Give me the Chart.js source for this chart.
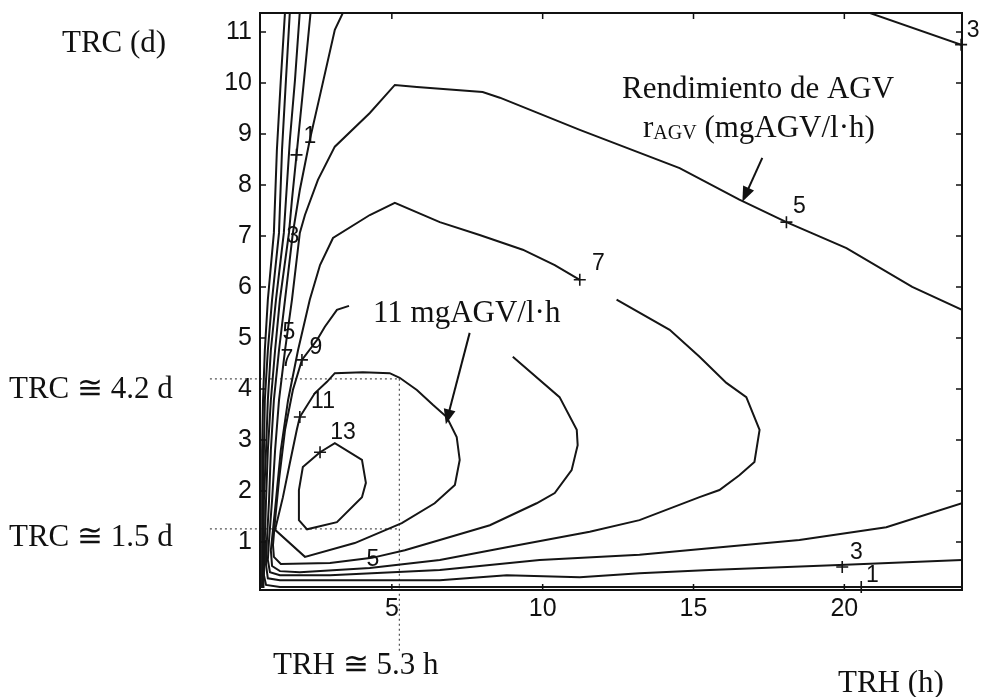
<!DOCTYPE html>
<html>
<head>
<meta charset="utf-8">
<script src="https://cdn.jsdelivr.net/npm/chart.js@4.4.1/dist/chart.umd.min.js"></script>
<style>
  html, body { margin: 0; padding: 0; background: #fff; }
</style>
</head>
<body>
<canvas id="chart" width="986" height="697"></canvas>
<script>
// x = TRH (h), y = TRC (d); contour lines of r_AGV
const xTicks = [5, 10, 15, 20];
const yTicks = [1, 2, 3, 4, 5, 6, 7, 8, 9, 10, 11];

const level13 = [[2.62,2.76],[3.11,2.94],[4.01,2.61],[4.14,2.16],[4.01,1.88],[3.18,1.39],[2.19,1.25],[1.92,1.43],[1.92,2.02],[2.05,2.47],[2.62,2.76]];

const level11 = [[1.95,3.45],[2.45,3.92],[2.85,4.14],[3.11,4.31],[4.04,4.33],[4.93,4.31],[5.26,4.22],[5.83,3.98],[6.36,3.69],[6.82,3.45],[7.15,3.06],[7.25,2.61],[7.09,2.12],[6.42,1.76],[5.33,1.37],[3.77,0.98],[2.12,0.71],[1.13,1.24],[1.39,1.88],[1.62,2.55],[1.85,3.20],[1.95,3.45]];

const level9 = [[3.58,5.63],[3.18,5.55],[2.78,5.22],[2.52,4.96],[2.02,4.57],[1.72,3.98],[1.46,3.20],[1.26,2.22],[1.13,1.43],[1.06,0.94],[1.09,0.71],[1.32,0.57],[2.95,0.59],[4.34,0.69],[5.43,0.84],[6.59,1.04],[8.25,1.33],[9.80,1.76],[10.40,1.96],[10.96,2.41],[11.16,2.90],[11.13,3.20],[10.56,3.84],[9.01,4.63]];

const level7 = [[12.45,5.75],[14.21,5.16],[15.20,4.63],[16.09,4.12],[16.75,3.84],[17.19,3.20],[17.02,2.57],[16.52,2.31],[15.86,2.02],[15.20,1.88],[13.21,1.43],[11.56,1.20],[8.81,0.90],[6.59,0.65],[4.27,0.49],[1.95,0.41],[1.29,0.43],[1.03,0.53],[0.99,0.84],[1.06,1.24],[1.16,1.82],[1.32,2.80],[1.56,3.78],[1.89,4.76],[2.28,5.75],[2.62,6.43],[3.05,6.96],[4.27,7.41],[5.10,7.65],[6.59,7.27],[7.91,7.02],[9.34,6.73],[10.40,6.43],[11.23,6.14]];

const level5 = [[23.90,5.55],[22.25,6.00],[20.07,6.76],[18.08,7.27],[16.52,7.71],[14.54,8.33],[11.23,9.08],[8.58,9.71],[8.01,9.82],[5.83,9.92],[5.10,9.96],[4.27,9.41],[3.11,8.75],[2.55,8.10],[2.12,7.41],[1.95,7.06],[1.69,5.75],[1.46,4.76],[1.26,3.78],[1.13,2.80],[1.03,1.82],[0.93,1.04],[0.89,0.65],[0.96,0.41],[1.29,0.35],[2.95,0.35],[6.59,0.45],[9.90,0.65],[13.21,0.75],[15.53,0.88],[18.51,1.04],[21.39,1.29],[23.90,1.76]];

const level3 = [[3.40,11.40],[3.11,11.04],[2.62,9.76],[2.28,8.88],[1.95,7.90],[1.72,7.06],[1.46,5.75],[1.26,4.76],[1.09,3.78],[0.99,2.80],[0.93,1.82],[0.86,1.04],[0.83,0.55],[0.89,0.29],[1.29,0.25],[6.59,0.25],[8.81,0.35],[11.23,0.31],[13.21,0.39],[15.53,0.45],[19.83,0.55],[23.90,0.65]];
const level3Corner = [[20.70,11.40],[23.90,10.74]];

const level1 = [[2.31,11.40],[2.09,10.06],[1.89,8.88],[1.69,7.71],[1.59,7.06],[1.29,5.75],[1.13,4.76],[0.99,3.78],[0.89,2.80],[0.83,1.82],[0.79,1.04],[0.76,0.35],[0.83,0.16],[1.29,0.12],[23.90,0.12]];

// steep unlabeled lines crowded against the TRC axis
const edgeA = [[1.95,11.40],[1.79,10.06],[1.62,8.88],[1.49,7.71],[1.42,7.06],[1.16,5.75],[0.99,4.76],[0.89,3.78],[0.83,2.80],[0.76,1.82],[0.76,1.04],[0.73,0.10]];
const edgeB = [[1.62,11.40],[1.49,10.06],[1.36,8.69],[1.26,7.06],[1.03,5.75],[0.89,4.76],[0.79,3.78],[0.76,2.80],[0.73,1.82],[0.70,0.10]];
const edgeC = [[1.46,11.40],[1.32,10.06],[1.19,8.69],[1.09,7.06],[0.89,5.75],[0.79,4.76],[0.73,3.78],[0.70,2.80],[0.70,0.10]];

// contour labels ("+" on the line, number beside it)
const plusPoints = [[1.84,8.59],[2.02,4.57],[1.95,3.45],[2.62,2.76],[11.23,6.14],[18.08,7.27],[23.87,10.75],[19.93,0.51],[20.56,0.12]];
const labelTexts = ['1', '3', '5', '9', '7', '11', '13', '7', '5', '3', '5', '3', '1'];
const labelPoints = [[2.28,8.95],[1.72,6.98],[1.59,5.10],[2.48,4.82],[1.52,4.57],[2.72,3.75],[3.38,3.14],[11.85,6.45],[18.51,7.57],[24.27,11.02],[4.37,0.65],[20.40,0.80],[20.93,0.35]];

// optimum read-off lines (TRC 4.2 d / 1.5 d, TRH 5.3 h)
const optTRCHigh = [[-1.03,4.2],[5.25,4.2]];
const optTRCLow = [[-1.03,1.26],[5.25,1.26]];
const optTRH = [[5.25,4.2],[5.25,-1.15]];

const toXY = arr => arr.map(p => ({ x: p[0], y: p[1] }));

function contourSet(arr) {
  return { data: toXY(arr), showLine: true, borderColor: '#151515', borderWidth: 2, pointRadius: 0, tension: 0 };
}
function dottedSet(arr) {
  return { data: toXY(arr), showLine: true, borderColor: '#555', borderWidth: 1.2, borderDash: [2, 3], pointRadius: 0, clip: false };
}

const serif = '"Liberation Serif", "DejaVu Serif", serif';
const sans = '"Liberation Sans", Arial, sans-serif';

function drawArrow(ctx, x1, y1, x2, y2) {
  const a = Math.atan2(y2 - y1, x2 - x1);
  const len = 15, hw = 6;
  ctx.beginPath();
  ctx.moveTo(x1, y1);
  ctx.lineTo(x2 - Math.cos(a) * len * 0.8, y2 - Math.sin(a) * len * 0.8);
  ctx.lineWidth = 2;
  ctx.stroke();
  ctx.beginPath();
  ctx.moveTo(x2, y2);
  ctx.lineTo(x2 - Math.cos(a) * len - Math.sin(a) * hw, y2 - Math.sin(a) * len + Math.cos(a) * hw);
  ctx.lineTo(x2 - Math.cos(a) * len + Math.sin(a) * hw, y2 - Math.sin(a) * len - Math.cos(a) * hw);
  ctx.closePath();
  ctx.fill();
}

const decor = {
  id: 'decor',
  afterDraw(chart) {
    const ctx = chart.ctx;
    const xs = chart.scales.x, ys = chart.scales.y;
    const a = chart.chartArea;
    ctx.save();
    ctx.strokeStyle = '#111';
    ctx.fillStyle = '#111';

    // frame and inward ticks
    ctx.lineWidth = 2;
    ctx.strokeRect(a.left, a.top, a.right - a.left, a.bottom - a.top);
    ctx.lineWidth = 1.5;
    const tl = 6;
    ctx.beginPath();
    yTicks.forEach(v => {
      const p = ys.getPixelForValue(v);
      ctx.moveTo(a.left, p); ctx.lineTo(a.left + tl, p);
      ctx.moveTo(a.right, p); ctx.lineTo(a.right - tl, p);
    });
    xTicks.forEach(v => {
      const p = xs.getPixelForValue(v);
      ctx.moveTo(p, a.bottom); ctx.lineTo(p, a.bottom - tl);
      ctx.moveTo(p, a.top); ctx.lineTo(p, a.top + tl);
    });
    ctx.stroke();

    // contour level numbers
    ctx.font = '23px ' + sans;
    ctx.textAlign = 'center';
    ctx.textBaseline = 'middle';
    labelTexts.forEach((t, i) => {
      ctx.fillText(t, xs.getPixelForValue(labelPoints[i][0]), ys.getPixelForValue(labelPoints[i][1]));
    });

    // arrows pointing at contours
    drawArrow(ctx, xs.getPixelForValue(17.28), ys.getPixelForValue(8.53), xs.getPixelForValue(16.62), ys.getPixelForValue(7.67));
    drawArrow(ctx, xs.getPixelForValue(7.58), ys.getPixelForValue(5.10), xs.getPixelForValue(6.79), ys.getPixelForValue(3.31));

    // annotations
    ctx.textAlign = 'left';
    ctx.textBaseline = 'alphabetic';
    ctx.font = '31px ' + serif;
    ctx.fillText('TRC (d)', 62, 52);
    ctx.fillText('TRC \u2245 4.2 d', 9, 398);
    ctx.fillText('TRC \u2245 1.5 d', 9, 546);
    ctx.fillText('TRH \u2245 5.3 h', 273, 674);
    ctx.fillText('TRH (h)', 838, 692);
    ctx.fillText('Rendimiento de AGV', 622, 98);
    ctx.fillText('11 mgAGV/l\u00b7h', 373, 322);
    let x = 643;
    ctx.fillText('r', x, 137);
    x += ctx.measureText('r').width;
    ctx.font = '20px ' + serif;
    ctx.fillText('AGV', x, 139);
    x += ctx.measureText('AGV').width;
    ctx.font = '31px ' + serif;
    ctx.fillText(' (mgAGV/l\u00b7h)', x, 137);
    ctx.restore();
  }
};

new Chart(document.getElementById('chart'), {
  type: 'scatter',
  data: {
    datasets: [
      contourSet(level13), contourSet(level11), contourSet(level9), contourSet(level7),
      contourSet(level5), contourSet(level3), contourSet(level3Corner), contourSet(level1),
      contourSet(edgeA), contourSet(edgeB), contourSet(edgeC),
      dottedSet(optTRCHigh), dottedSet(optTRCLow), dottedSet(optTRH),
      { data: toXY(plusPoints), pointStyle: 'cross', pointRadius: 6, borderColor: '#151515', borderWidth: 1.6, clip: false }
    ]
  },
  options: {
    responsive: false,
    animation: false,
    layout: { padding: { left: 220, top: 13, right: 24, bottom: 67 } },
    plugins: { legend: { display: false }, tooltip: { enabled: false } },
    scales: {
      x: {
        type: 'linear', min: 0.63, max: 23.9,
        afterBuildTicks: s => { s.ticks = xTicks.map(v => ({ value: v })); },
        afterFit: s => { s.height = 40; s.paddingLeft = 0; s.paddingRight = 0; },
        grid: { display: false, drawTicks: false },
        border: { display: false },
        ticks: { font: { family: sans, size: 25 }, color: '#111', padding: 4, maxRotation: 0 }
      },
      y: {
        type: 'linear', min: 0.06, max: 11.37,
        afterBuildTicks: s => { s.ticks = yTicks.map(v => ({ value: v })); },
        afterFit: s => { s.width = 40; s.paddingTop = 0; s.paddingBottom = 0; },
        grid: { display: false, drawTicks: false },
        border: { display: false },
        ticks: { font: { family: sans, size: 25 }, color: '#111', padding: 8 }
      }
    }
  },
  plugins: [decor]
});
</script>
</body>
</html>
